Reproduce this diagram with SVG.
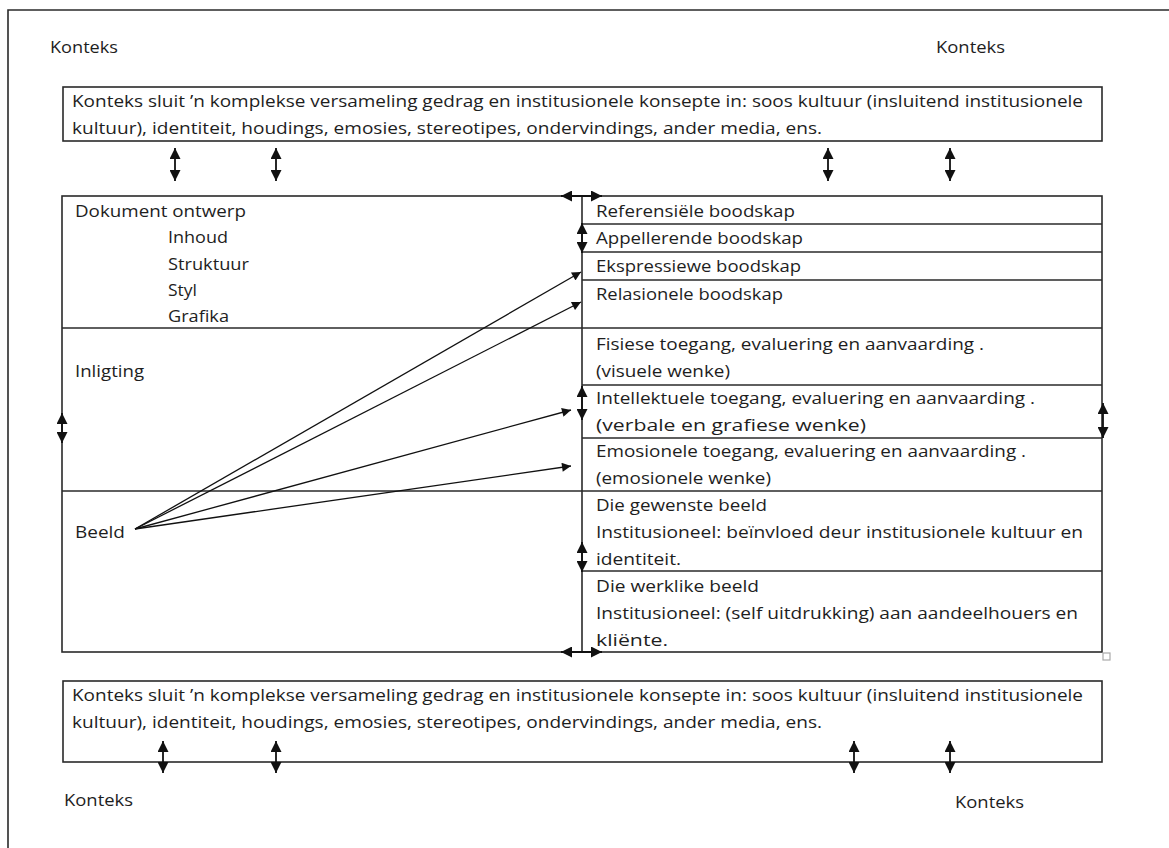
<svg xmlns="http://www.w3.org/2000/svg" width="1169" height="848" viewBox="0 0 1169 848">
<style>
text{font-family:"Open Sans","Noto Sans",sans-serif;font-size:17px;fill:#1e1e1e}
.box{fill:#fff;stroke:#2a2a2a;stroke-width:1.6}
.ln{stroke:#2a2a2a;stroke-width:1.6;fill:none}
.ar{stroke:#111;stroke-width:1.8;fill:none;marker-start:url(#ah2);marker-end:url(#ah2)}
.dg{stroke:#111;stroke-width:1.3;fill:none;marker-end:url(#ah)}
</style>
<defs>
<marker id="ah" viewBox="0 0 10 10" refX="10" refY="5" markerWidth="11" markerHeight="9" markerUnits="userSpaceOnUse" orient="auto-start-reverse"><path d="M0,0 L10,5 L0,10 z" fill="#111"/></marker>
<marker id="ah2" viewBox="0 0 10 10" refX="10" refY="5" markerWidth="11" markerHeight="11" markerUnits="userSpaceOnUse" orient="auto-start-reverse"><path d="M0,0 L10,5 L0,10 z" fill="#111"/></marker>
</defs>
<rect width="1169" height="848" fill="#fff"/>
<g id="frame"><path class="ln" d="M8,848 V10 H1169"/></g>

<g id="konteks-labels">
<text x="50" y="53" textLength="68" lengthAdjust="spacingAndGlyphs">Konteks</text>
<text x="936" y="53" textLength="69" lengthAdjust="spacingAndGlyphs">Konteks</text>
<text x="64" y="806" textLength="69" lengthAdjust="spacingAndGlyphs">Konteks</text>
<text x="955" y="808" textLength="69" lengthAdjust="spacingAndGlyphs">Konteks</text>
</g>

<g id="top-context">
<rect class="box" x="63" y="87" width="1039" height="54"/>
<text x="72" y="107" textLength="1011" lengthAdjust="spacingAndGlyphs">Konteks sluit ’n komplekse versameling gedrag en institusionele konsepte in: soos kultuur (insluitend institusionele</text>
<text x="72" y="134" textLength="750" lengthAdjust="spacingAndGlyphs">kultuur), identiteit, houdings, emosies, stereotipes, ondervindings, ander media, ens.</text>
</g>

<g id="bottom-context">
<rect class="box" x="63" y="681" width="1039" height="81"/>
<text x="72" y="701" textLength="1011" lengthAdjust="spacingAndGlyphs">Konteks sluit ’n komplekse versameling gedrag en institusionele konsepte in: soos kultuur (insluitend institusionele</text>
<text x="72" y="728" textLength="750" lengthAdjust="spacingAndGlyphs">kultuur), identiteit, houdings, emosies, stereotipes, ondervindings, ander media, ens.</text>
</g>

<g id="main-box">
<rect class="box" x="62" y="196" width="1040" height="456"/>
<line class="ln" x1="582" y1="196" x2="582" y2="652"/>
<line class="ln" x1="62" y1="328" x2="1102" y2="328"/>
<line class="ln" x1="62" y1="491" x2="1102" y2="491"/>
<rect x="1103" y="653" width="7" height="7" fill="#fff" stroke="#aaa" stroke-width="1.2"/>
</g>

<g id="dokument-ontwerp">
<text x="75" y="217" textLength="171" lengthAdjust="spacingAndGlyphs">Dokument ontwerp</text>
<text x="168" y="243" textLength="60" lengthAdjust="spacingAndGlyphs">Inhoud</text>
<text x="168" y="270" textLength="81" lengthAdjust="spacingAndGlyphs">Struktuur</text>
<text x="168" y="296" textLength="29" lengthAdjust="spacingAndGlyphs">Styl</text>
<text x="168" y="322" textLength="61" lengthAdjust="spacingAndGlyphs">Grafika</text>
</g>
<g id="inligting"><text x="75" y="377" textLength="69" lengthAdjust="spacingAndGlyphs">Inligting</text></g>
<g id="beeld"><text x="75" y="538" textLength="50" lengthAdjust="spacingAndGlyphs">Beeld</text></g>

<g id="boodskap-rows">
<line class="ln" x1="582" y1="224" x2="1102" y2="224"/>
<line class="ln" x1="582" y1="252" x2="1102" y2="252"/>
<line class="ln" x1="582" y1="280" x2="1102" y2="280"/>
<text x="596" y="217" textLength="199" lengthAdjust="spacingAndGlyphs">Referensiële boodskap</text>
<text x="596" y="244" textLength="207" lengthAdjust="spacingAndGlyphs">Appellerende boodskap</text>
<text x="596" y="272" textLength="205" lengthAdjust="spacingAndGlyphs">Ekspressiewe boodskap</text>
<text x="596" y="300" textLength="187" lengthAdjust="spacingAndGlyphs">Relasionele boodskap</text>
</g>

<g id="toegang-rows">
<line class="ln" x1="582" y1="385" x2="1102" y2="385"/>
<line class="ln" x1="582" y1="438" x2="1102" y2="438"/>
<text x="596" y="350" textLength="388" lengthAdjust="spacingAndGlyphs">Fisiese toegang, evaluering en aanvaarding .</text>
<text x="596" y="377" textLength="134" lengthAdjust="spacingAndGlyphs">(visuele wenke)</text>
<text x="596" y="404" textLength="439" lengthAdjust="spacingAndGlyphs">Intellektuele toegang,  evaluering en aanvaarding  .</text>
<text x="596" y="431" textLength="270" lengthAdjust="spacingAndGlyphs">(verbale en grafiese wenke)</text>
<text x="596" y="457" textLength="430" lengthAdjust="spacingAndGlyphs">Emosionele toegang, evaluering en aanvaarding .</text>
<text x="596" y="484" textLength="175" lengthAdjust="spacingAndGlyphs">(emosionele wenke)</text>
</g>

<g id="beeld-rows">
<line class="ln" x1="582" y1="571" x2="1102" y2="571"/>
<text x="596" y="511" textLength="171" lengthAdjust="spacingAndGlyphs">Die gewenste beeld</text>
<text x="596" y="538" textLength="487" lengthAdjust="spacingAndGlyphs">Institusioneel:  beïnvloed deur institusionele kultuur en</text>
<text x="596" y="565" textLength="85" lengthAdjust="spacingAndGlyphs">identiteit.</text>
<text x="596" y="592" textLength="163" lengthAdjust="spacingAndGlyphs">Die werklike beeld</text>
<text x="596" y="619" textLength="482" lengthAdjust="spacingAndGlyphs">Institusioneel:  (self uitdrukking) aan aandeelhouers en</text>
<text x="596" y="646" textLength="72" lengthAdjust="spacingAndGlyphs">kliënte.</text>
</g>

<g id="connectors">
<line class="ar" x1="175" y1="148" x2="175" y2="181"/>
<line class="ar" x1="276" y1="148" x2="276" y2="181"/>
<line class="ar" x1="828" y1="148" x2="828" y2="181"/>
<line class="ar" x1="950" y1="148" x2="950" y2="181"/>
<line class="ar" x1="163" y1="741" x2="163" y2="773"/>
<line class="ar" x1="276" y1="741" x2="276" y2="773"/>
<line class="ar" x1="854" y1="741" x2="854" y2="773"/>
<line class="ar" x1="950" y1="741" x2="950" y2="773"/>
<line class="ar" x1="561" y1="196" x2="602" y2="196"/>
<line class="ar" x1="561" y1="652" x2="602" y2="652"/>
<line class="ar" x1="582" y1="223" x2="582" y2="253"/>
<line class="ar" x1="582" y1="386" x2="582" y2="420"/>
<line class="ar" x1="582" y1="542" x2="582" y2="572"/>
<line class="ar" x1="62" y1="413" x2="62" y2="443"/>
<line class="ar" x1="1103" y1="403" x2="1103" y2="438"/>
<line class="dg" x1="135" y1="529" x2="581" y2="272"/>
<line class="dg" x1="135" y1="529" x2="581" y2="302"/>
<line class="dg" x1="135" y1="529" x2="571" y2="410"/>
<line class="dg" x1="135" y1="529" x2="571" y2="466"/>
</g>
</svg>
